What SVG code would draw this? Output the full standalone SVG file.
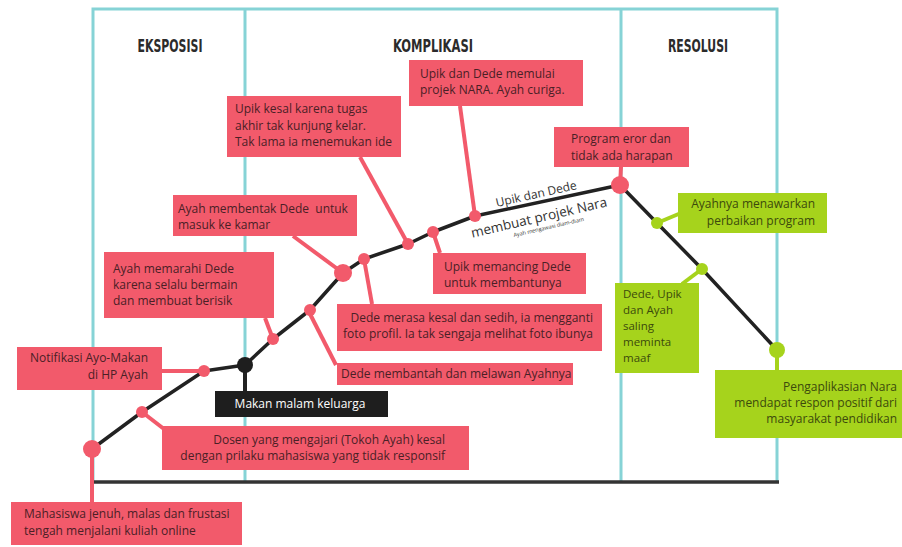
<svg xmlns="http://www.w3.org/2000/svg" width="902" height="547" viewBox="0 0 902 547">
<style>
.frame{fill:none;stroke:#86D3D6;stroke-width:3}
.base{stroke:#333;stroke-width:3.5;fill:none}
.head{font-family:"DejaVu Sans Condensed","DejaVu Sans",sans-serif;font-weight:bold;font-size:18px;fill:#2b2b2b}
.rbox{fill:#F25A6B}
.gbox{fill:#A6D31C}
.rdot{fill:#F25A6B}
.gdot{fill:#A6D31C}
.t{font-family:"Open Sans","Noto Sans",sans-serif;font-size:12px;fill:#4a2026}
.tg{font-family:"Open Sans","Noto Sans",sans-serif;font-size:12px;fill:#3c4a0c}
.r{text-anchor:end}
.rs{stroke:#F25A6B;stroke-width:4;fill:none}
.gs{stroke:#A6D31C;stroke-width:4;fill:none}
.main{stroke:#222;stroke-width:3.5;fill:none;stroke-linejoin:round}
.lbl{font-family:"Open Sans","Noto Sans",sans-serif;fill:#333}
</style>
<rect width="902" height="547" fill="#fff"/>
<g id="frame">
<path class="frame" d="M93,482 V9 H777 V482 M245,9 V482 M621,9 V482"/>
<line class="base" x1="94" y1="482" x2="779" y2="482"/>
<text class="head" x="170" y="52" text-anchor="middle" textLength="65" lengthAdjust="spacingAndGlyphs">EKSPOSISI</text>
<text class="head" x="433" y="52" text-anchor="middle" textLength="80" lengthAdjust="spacingAndGlyphs">KOMPLIKASI</text>
<text class="head" x="698" y="52" text-anchor="middle" textLength="60" lengthAdjust="spacingAndGlyphs">RESOLUSI</text>
</g>
<g id="connectors">
<polyline class="main" points="92,449 142,412 204,371 245,365 273,339 310,310 343,273 364,259 408,244 433,232 475,216 620,185 657,223 702,269 777,350"/>
<line class="rs" x1="460" y1="106" x2="475" y2="216"/>
<line class="rs" x1="360" y1="157" x2="408" y2="244"/>
<line class="rs" x1="293" y1="236" x2="343" y2="273"/>
<line class="rs" x1="265" y1="318" x2="273" y2="339"/>
<line class="rs" x1="162" y1="371" x2="204" y2="371"/>
<line class="rs" x1="142" y1="412" x2="164" y2="429"/>
<line class="rs" x1="92" y1="449" x2="92" y2="502"/>
<line class="rs" x1="308" y1="310" x2="336" y2="365"/>
<line class="rs" x1="364" y1="259" x2="372" y2="304"/>
<line class="rs" x1="433" y1="232" x2="440" y2="253"/>
<line class="rs" x1="621" y1="167" x2="620" y2="185"/>
<line stroke="#222" stroke-width="4" x1="245" y1="365" x2="245" y2="391"/>
<line class="gs" x1="657" y1="223" x2="681" y2="213"/>
<line class="gs" x1="702" y1="269" x2="682" y2="284"/>
<line class="gs" x1="777" y1="350" x2="777" y2="370"/>
<text class="lbl" font-size="12" transform="translate(537,198) rotate(-12.5)" text-anchor="middle">Upik dan Dede</text>
<text class="lbl" font-size="13.5" transform="translate(540,222) rotate(-13)" text-anchor="middle">membuat projek Nara</text>
<text class="lbl" font-size="5.5" transform="translate(549,229) rotate(-13)" text-anchor="middle">Ayah mengawasi diam-diam</text>
</g>
<g id="n7">
<rect class="rbox" x="11" y="502" width="231" height="43"/>
<circle class="rdot" cx="92" cy="449" r="9"/>
<text class="t" x="24" y="518">Mahasiswa jenuh, malas dan frustasi</text>
<text class="t" x="24" y="535">tengah menjalani kuliah online</text>
</g>
<g id="n6">
<rect class="rbox" x="162" y="426" width="307" height="44"/>
<circle class="rdot" cx="142" cy="412" r="6"/>
<text class="t r" x="445" y="444">Dosen yang mengajari (Tokoh Ayah) kesal</text>
<text class="t r" x="445" y="460">dengan prilaku mahasiswa yang tidak responsif</text>
</g>
<g id="n5">
<rect class="rbox" x="17" y="347" width="145" height="43"/>
<circle class="rdot" cx="204" cy="371" r="6"/>
<text class="t r" x="148" y="362">Notifikasi Ayo-Makan</text>
<text class="t r" x="148" y="379">di HP Ayah</text>
</g>
<g id="makan">
<rect x="215" y="391" width="173" height="26" fill="#1e1e1e"/>
<circle cx="245" cy="365" r="8" fill="#1e1e1e"/>
<text class="t" x="300" y="408" text-anchor="middle" style="fill:#fff">Makan malam keluarga</text>
</g>
<g id="n4">
<rect class="rbox" x="104" y="252" width="170" height="66"/>
<circle class="rdot" cx="273" cy="339" r="6"/>
<text class="t" x="113" y="273">Ayah memarahi Dede</text>
<text class="t" x="113" y="289">karena selalu bermain</text>
<text class="t" x="113" y="305">dan membuat berisik</text>
</g>
<g id="n8">
<rect class="rbox" x="337" y="363" width="236" height="22"/>
<circle class="rdot" cx="310" cy="310" r="6"/>
<text class="t" x="341" y="378">Dede membantah dan melawan Ayahnya</text>
</g>
<g id="n3">
<rect class="rbox" x="173" y="195" width="184" height="41"/>
<circle class="rdot" cx="343" cy="273" r="9"/>
<text class="t" x="178" y="213" style="white-space:pre">Ayah membentak Dede  untuk</text>
<text class="t" x="178" y="229">masuk ke kamar</text>
</g>
<g id="n9">
<rect class="rbox" x="337" y="304" width="265" height="47"/>
<circle class="rdot" cx="364" cy="259" r="6"/>
<text class="t r" x="593" y="322">Dede merasa kesal dan sedih, ia mengganti</text>
<text class="t r" x="593" y="338">foto profil. Ia tak sengaja melihat foto ibunya</text>
</g>
<g id="n2">
<rect class="rbox" x="227" y="96" width="174" height="61"/>
<circle class="rdot" cx="408" cy="244" r="6"/>
<text class="t" x="235" y="113">Upik kesal karena tugas</text>
<text class="t" x="235" y="130">akhir tak kunjung kelar.</text>
<text class="t" x="235" y="146">Tak lama ia menemukan ide</text>
</g>
<g id="n10">
<rect class="rbox" x="433" y="253" width="153" height="41"/>
<circle class="rdot" cx="433" cy="232" r="6"/>
<text class="t" x="444" y="271">Upik memancing Dede</text>
<text class="t" x="444" y="287">untuk membantunya</text>
</g>
<g id="n1">
<rect class="rbox" x="409" y="60" width="174" height="46"/>
<circle class="rdot" cx="475" cy="216" r="6"/>
<text class="t" x="420" y="78">Upik dan Dede memulai</text>
<text class="t" x="420" y="94">projek NARA. Ayah curiga.</text>
</g>
<g id="n11">
<rect class="rbox" x="554" y="127" width="135" height="40"/>
<circle class="rdot" cx="620" cy="185" r="9"/>
<text class="t" x="571" y="143">Program eror dan</text>
<text class="t" x="571" y="160">tidak ada harapan</text>
</g>
<g id="g1">
<rect class="gbox" x="678" y="193" width="149" height="40"/>
<circle class="gdot" cx="657" cy="223" r="6"/>
<text class="tg r" x="815" y="208">Ayahnya menawarkan</text>
<text class="tg r" x="815" y="225">perbaikan program</text>
</g>
<g id="g2">
<rect class="gbox" x="615" y="283" width="84" height="90"/>
<circle class="gdot" cx="702" cy="269" r="6"/>
<g style="font-size:11.5px">
<text class="tg" x="623" y="298" style="font-size:11.5px">Dede, Upik</text>
<text class="tg" x="623" y="314" style="font-size:11.5px">dan Ayah</text>
<text class="tg" x="623" y="330" style="font-size:11.5px">saling</text>
<text class="tg" x="623" y="346" style="font-size:11.5px">meminta</text>
<text class="tg" x="623" y="362" style="font-size:11.5px">maaf</text>
</g>
</g>
<g id="g3">
<rect class="gbox" x="715" y="370" width="187" height="68"/>
<circle class="gdot" cx="777" cy="350" r="8"/>
<text class="tg r" x="897" y="391">Pengaplikasian Nara</text>
<text class="tg r" x="897" y="407">mendapat respon positif dari</text>
<text class="tg r" x="897" y="423">masyarakat pendidikan</text>
</g>
</svg>
